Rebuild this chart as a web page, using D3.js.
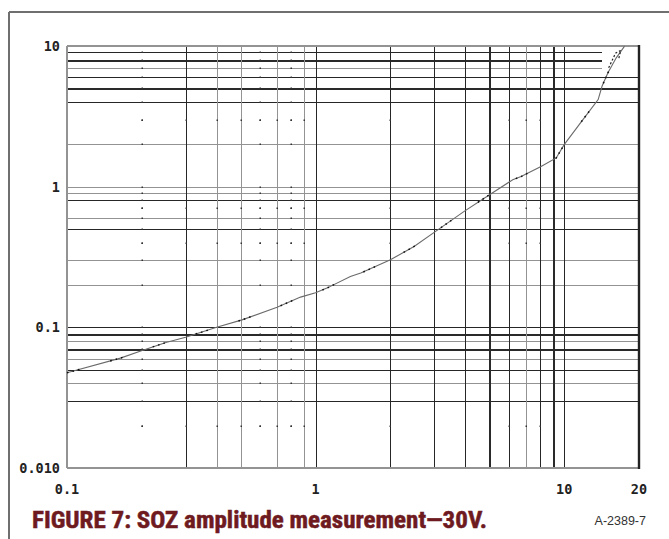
<!DOCTYPE html>
<html>
<head>
<meta charset="utf-8">
<script src="https://cdn.jsdelivr.net/npm/d3@7"></script>
<style>
  html, body { margin: 0; padding: 0; background: #fff; }
  svg { display: block; }
</style>
</head>
<body>
<svg id="chart" width="669" height="539"></svg>
<script>
// Measured amplitude vs. frequency (log-log)
const curveX = [0.1, 0.164, 0.198, 0.25, 0.3, 0.4, 0.506, 0.70, 0.87, 1.0, 1.11, 1.38, 1.52, 2.0, 2.49, 3.04, 3.96, 5.01, 6.21, 6.71, 8.07, 9.29, 10.0, 11.9, 13.7, 14.2, 15.0, 16.2, 17.5];
const curveY = [0.0475, 0.0604, 0.0680, 0.0780, 0.0850, 0.1, 0.113, 0.139, 0.164, 0.176, 0.19, 0.23, 0.243, 0.302, 0.376, 0.481, 0.667, 0.877, 1.12, 1.18, 1.39, 1.60, 1.99, 3.0, 4.16, 5.17, 6.45, 8.24, 9.97];

// Short retrace near the top of the sweep
const retraceX = [15.1, 16.1, 16.9, 16.6];
const retraceY = [7.0, 8.9, 9.3, 8.2];

// Axis ticks
const xTicks = [0.1, 1, 10, 20];
const xTickLabels = ["0.1", "1", "10", "20"];
const yTicks = [10, 1, 0.1, 0.01];
const yTickLabels = ["10", "1", "0.1", "0.010"];

// Grid rulings
const xGrid = [0.3, 0.4, 0.5, 0.7, 0.9, 1, 2, 3, 4, 5, 6, 7, 8, 9, 10];
const yGrid = [9, 8, 7, 6, 5, 4, 2, 1, 0.9, 0.8, 0.6, 0.5, 0.3, 0.2, 0.1, 0.09, 0.08, 0.07, 0.06, 0.05, 0.04, 0.03];
const xDotCols = [0.2, 0.6, 0.8];
const yDotRows = [3, 0.7, 0.4, 0.02];

const captionText = "FIGURE 7: SOZ amplitude measurement\u201430V.";
const figureId = "A-2389-7";

// ---- drawing ----
const svg = d3.select("#chart");
const plotL = 67, plotR = 639, plotT = 46, plotB = 468;

const x = d3.scaleLog().domain([0.1, 20]).range([plotL, plotR]);
const y = d3.scaleLog().domain([0.01, 10]).range([plotB, plotT]);

// line weights per ruling
const grayX = new Set([0.4, 0.5, 0.7, 0.9, 7]);
const heavyX = new Set([5, 9]);
const grayY = new Set([7, 2, 1, 0.9, 0.6, 0.3, 0.2, 0.08, 0.06, 0.04]);
const heavyY = new Set([8, 5, 0.09, 0.07]);
const shortY = new Set([9, 8, 7]);

function rule(sel, gray, heavy) {
  sel.attr("stroke", heavy ? "#2a2a2a" : (gray ? "#939393" : "#262626"))
     .attr("stroke-width", heavy ? 2 : (gray ? 1.5 : 1.1))
     .attr("shape-rendering", "crispEdges");
}

// outer frame
svg.append("line").attr("x1", 9).attr("x2", 9).attr("y1", 12).attr("y2", 539)
  .attr("stroke", "#6f6f6f").attr("stroke-width", 2).attr("shape-rendering", "crispEdges");
svg.append("line").attr("x1", 9).attr("x2", 669).attr("y1", 12).attr("y2", 12)
  .attr("stroke", "#6f6f6f").attr("stroke-width", 2).attr("shape-rendering", "crispEdges");

const grid = svg.append("g");

// horizontal rulings
yGrid.forEach(v => {
  grid.append("line")
    .attr("x1", x(0.1)).attr("x2", shortY.has(v) ? x(14.2) : x(20))
    .attr("y1", Math.round(y(v)) + 0.5).attr("y2", Math.round(y(v)) + 0.5)
    .call(rule, grayY.has(v), heavyY.has(v));
});

// vertical rulings
xGrid.forEach(v => {
  grid.append("line")
    .attr("x1", Math.round(x(v)) + 0.5).attr("x2", Math.round(x(v)) + 0.5)
    .attr("y1", y(10)).attr("y2", y(0.01))
    .call(rule, grayX.has(v), heavyX.has(v));
});

// plot border
grid.append("line").attr("x1", x(0.1)).attr("x2", x(20)).attr("y1", y(10)).attr("y2", y(10)).call(rule, true, false);
grid.append("line").attr("x1", x(0.1)).attr("x2", x(20)).attr("y1", y(0.01)).attr("y2", y(0.01)).call(rule, true, false);
grid.append("line").attr("x1", x(0.1)).attr("x2", x(0.1)).attr("y1", y(10)).attr("y2", y(0.01)).call(rule, true, false);
grid.append("line").attr("x1", x(20)).attr("x2", x(20)).attr("y1", y(10) - 1).attr("y2", y(0.01) + 1)
  .attr("stroke", "#222").attr("stroke-width", 2.4);

// intersection dots
const allCols = xDotCols.concat(xGrid.filter(v => v < 1 || v === 2 || (v >= 6 && v <= 8)));
const allRows = yDotRows.concat(yGrid);
const dots = [];
xDotCols.forEach(cx => allRows.forEach(ry => dots.push([cx, ry])));
yDotRows.forEach(ry => allCols.forEach(cx => dots.push([cx, ry])));
grid.selectAll("rect.dot").data(dots).enter().append("rect")
  .attr("class", "dot")
  .attr("x", d => Math.round(x(d[0])) - 0.5)
  .attr("y", d => Math.round(y(d[1])) - 0.5)
  .attr("width", 1.5).attr("height", 1.5)
  .attr("fill", "#333");

// curve: thin trace with darker plotted points along it
const pts = curveX.map((v, i) => [v, curveY[i]]);
const lineGen = d3.line().x(d => x(d[0])).y(d => y(d[1]));
svg.append("path").attr("d", lineGen(pts))
  .attr("fill", "none").attr("stroke", "#6a6a6a").attr("stroke-width", 1.1);
svg.append("path").attr("d", lineGen(pts))
  .attr("fill", "none").attr("stroke", "#111").attr("stroke-width", 1.5)
  .attr("stroke-dasharray", "1.6,4,1.6,4,1.6,4,0,28");

const rpts = retraceX.map((v, i) => [v, retraceY[i]]);
svg.append("path").attr("d", lineGen(rpts))
  .attr("fill", "none").attr("stroke", "#222").attr("stroke-width", 1.2)
  .attr("stroke-dasharray", "2,2");

// tick labels
const tickFont = "'DejaVu Sans Mono', monospace";
svg.selectAll("text.ylab").data(yTicks).enter().append("text")
  .attr("class", "ylab")
  .attr("x", 60).attr("y", d => y(d) + 5)
  .attr("text-anchor", "end")
  .attr("font-family", tickFont).attr("font-weight", "bold").attr("font-size", 13.5)
  .attr("fill", "#222")
  .text((d, i) => yTickLabels[i]);

svg.selectAll("text.xlab").data(xTicks).enter().append("text")
  .attr("class", "xlab")
  .attr("x", d => x(d)).attr("y", 494)
  .attr("text-anchor", "middle")
  .attr("font-family", tickFont).attr("font-weight", "bold").attr("font-size", 13.5)
  .attr("fill", "#222")
  .text((d, i) => xTickLabels[i]);

// caption
svg.append("text")
  .attr("x", 32).attr("y", 528)
  .attr("font-family", "'Liberation Sans Narrow', 'Roboto Condensed', 'Liberation Sans', sans-serif")
  .attr("font-weight", "bold").attr("font-size", 24)
  .attr("fill", "#6e1a1f").attr("stroke", "#6e1a1f").attr("stroke-width", 0.5)
  .attr("textLength", 455).attr("lengthAdjust", "spacingAndGlyphs")
  .text(captionText);

svg.append("text")
  .attr("x", 646).attr("y", 525)
  .attr("text-anchor", "end")
  .attr("font-family", "'Liberation Sans', Arial, sans-serif")
  .attr("font-size", 12.5)
  .attr("fill", "#333")
  .text(figureId);
</script>
</body>
</html>
